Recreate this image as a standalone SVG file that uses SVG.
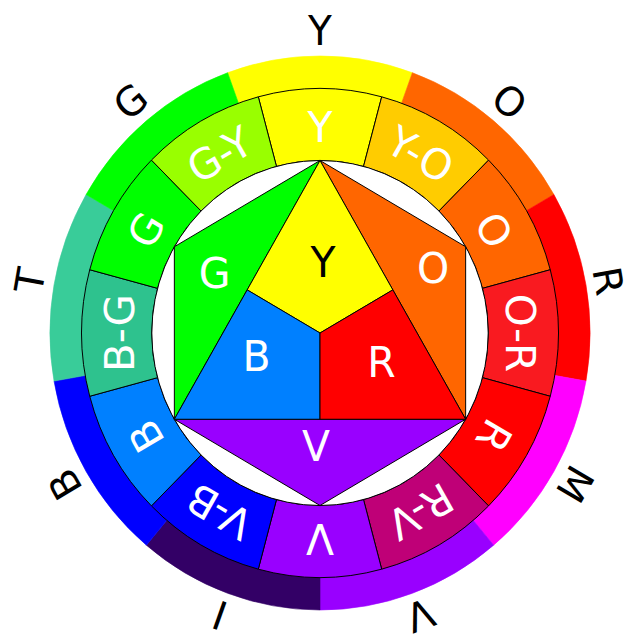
<svg xmlns="http://www.w3.org/2000/svg" width="633" height="642" viewBox="0 0 633 642">
<style>
.ln{stroke:#000;stroke-width:1;stroke-linejoin:round}
.seam{stroke-width:0.6}
text{font-family:"DejaVu Sans","Liberation Sans",sans-serif;font-size:42px;text-anchor:middle}
.w{fill:#fff}
.k{fill:#000}
#outer-labels text{font-size:40px}
</style>
<rect width="633" height="642" fill="#fff"/>
<g transform="translate(320,333) scale(0.975,1)">
  <g id="outer-ring">
    <path id="o-Y" d="M0,0 L-94.740,-260.295 A277,277 0 0 1 94.740,-260.295 Z" fill="#ffff00" stroke="#ffff00" class="seam"/>
    <path id="o-O" d="M0,0 L94.740,-260.295 A277,277 0 0 1 239.889,-138.5 Z" fill="#ff6600" stroke="#ff6600" class="seam"/>
    <path id="o-R" d="M0,0 L239.889,-138.5 A277,277 0 0 1 272.792,48.100 Z" fill="#ff0000" stroke="#ff0000" class="seam"/>
    <path id="o-M" d="M0,0 L272.792,48.100 A277,277 0 0 1 178.052,212.194 Z" fill="#ff00ff" stroke="#ff00ff" class="seam"/>
    <path id="o-V" d="M0,0 L178.052,212.194 A277,277 0 0 1 0,277 Z" fill="#9900ff" stroke="#9900ff" class="seam"/>
    <path id="o-I" d="M0,0 L0,277 A277,277 0 0 1 -178.052,212.194 Z" fill="#330066" stroke="#330066" class="seam"/>
    <path id="o-B" d="M0,0 L-178.052,212.194 A277,277 0 0 1 -272.792,48.100 Z" fill="#0000ff" stroke="#0000ff" class="seam"/>
    <path id="o-T" d="M0,0 L-272.792,48.100 A277,277 0 0 1 -239.889,-138.5 Z" fill="#39cc99" stroke="#39cc99" class="seam"/>
    <path id="o-G" d="M0,0 L-239.889,-138.5 A277,277 0 0 1 -94.740,-260.295 Z" fill="#00ff00" stroke="#00ff00" class="seam"/>
  </g>
  <g id="inner-ring" class="ln">
    <path id="i-Y" fill="#ffff00" d="M-63.281,-236.169 A244.5,244.5 0 0 1 63.281,-236.169 L44.646,-166.622 A172.5,172.5 0 0 0 -44.646,-166.622 Z"/>
    <path id="i-YO" fill="#ffcc00" d="M63.281,-236.169 A244.5,244.5 0 0 1 172.888,-172.888 L121.976,-121.976 A172.5,172.5 0 0 0 44.646,-166.622 Z"/>
    <path id="i-O" fill="#ff6600" d="M172.888,-172.888 A244.5,244.5 0 0 1 236.169,-63.281 L166.622,-44.646 A172.5,172.5 0 0 0 121.976,-121.976 Z"/>
    <path id="i-OR" fill="#f91a20" d="M236.169,-63.281 A244.5,244.5 0 0 1 236.169,63.281 L166.622,44.646 A172.5,172.5 0 0 0 166.622,-44.646 Z"/>
    <path id="i-R" fill="#ff0000" d="M236.169,63.281 A244.5,244.5 0 0 1 172.888,172.888 L121.976,121.976 A172.5,172.5 0 0 0 166.622,44.646 Z"/>
    <path id="i-RV" fill="#bf0077" d="M172.888,172.888 A244.5,244.5 0 0 1 63.281,236.169 L44.646,166.622 A172.5,172.5 0 0 0 121.976,121.976 Z"/>
    <path id="i-V" fill="#9900ff" d="M63.281,236.169 A244.5,244.5 0 0 1 -63.281,236.169 L-44.646,166.622 A172.5,172.5 0 0 0 44.646,166.622 Z"/>
    <path id="i-VB" fill="#0000ff" d="M-63.281,236.169 A244.5,244.5 0 0 1 -172.888,172.888 L-121.976,121.976 A172.5,172.5 0 0 0 -44.646,166.622 Z"/>
    <path id="i-B" fill="#0080ff" d="M-172.888,172.888 A244.5,244.5 0 0 1 -236.169,63.281 L-166.622,44.646 A172.5,172.5 0 0 0 -121.976,121.976 Z"/>
    <path id="i-BG" fill="#2ec28e" d="M-236.169,63.281 A244.5,244.5 0 0 1 -236.169,-63.281 L-166.622,-44.646 A172.5,172.5 0 0 0 -166.622,44.646 Z"/>
    <path id="i-G" fill="#00ff00" d="M-236.169,-63.281 A244.5,244.5 0 0 1 -172.888,-172.888 L-121.976,-121.976 A172.5,172.5 0 0 0 -166.622,-44.646 Z"/>
    <path id="i-GY" fill="#99ff00" d="M-172.888,-172.888 A244.5,244.5 0 0 1 -63.281,-236.169 L-44.646,-166.622 A172.5,172.5 0 0 0 -121.976,-121.976 Z"/>
  </g>
  <circle id="white-disc" r="172.5" fill="#fff" class="ln"/>
  <g id="center" class="ln">
    <polygon id="c-G" fill="#00ff00" points="0,-172.5 -149.39,-86.25 -149.39,86.25"/>
    <polygon id="c-O" fill="#ff6600" points="0,-172.5 149.39,-86.25 149.39,86.25"/>
    <polygon id="c-V" fill="#9900ff" points="-149.39,86.25 149.39,86.25 0,172.5"/>
    <polygon id="c-Y" fill="#ffff00" points="0,-172.5 74.70,-43.125 0,0 -74.70,-43.125"/>
    <polygon id="c-B" fill="#0080ff" points="-74.70,-43.125 0,0 0,86.25 -149.39,86.25"/>
    <polygon id="c-R" fill="#ff0000" points="74.70,-43.125 149.39,86.25 0,86.25 0,0"/>
  </g>
  <g id="center-labels">
    <text class="k" x="3" y="-56">Y</text>
    <text class="w" x="-108" y="-45">G</text>
    <text class="w" x="116" y="-50">O</text>
    <text class="w" x="-65" y="38">B</text>
    <text class="w" x="63" y="44">R</text>
    <text class="w" x="-4" y="128">V</text>
  </g>
  <g id="ring-labels" class="w">
    <text transform="rotate(0)" y="-191">Y</text>
    <text transform="rotate(30)" y="-191">Y-O</text>
    <text transform="rotate(60)" y="-191">O</text>
    <text transform="rotate(90)" y="-191">O-R</text>
    <text transform="rotate(120)" y="-191">R</text>
    <text transform="rotate(150)" y="-191">R-V</text>
    <text transform="rotate(180)" y="-191">V</text>
    <text transform="rotate(210)" y="-191">V-B</text>
    <text transform="rotate(240)" y="-191">B</text>
    <text transform="rotate(270)" y="-191">B-G</text>
    <text transform="rotate(300)" y="-191">G</text>
    <text transform="rotate(330)" y="-191">G-Y</text>
  </g>
  <g id="outer-labels" class="k">
    <text transform="rotate(0)" y="-288">Y</text>
    <text transform="rotate(40)" y="-288">O</text>
    <text transform="rotate(80)" y="-286">R</text>
    <text transform="rotate(120)" y="-288">M</text>
    <text transform="rotate(160)" y="-286">V</text>
    <text transform="rotate(200)" y="-286">I</text>
    <text transform="rotate(240)" y="-288">B</text>
    <text transform="rotate(280)" y="-288">T</text>
    <text transform="rotate(320)" y="-288">G</text>
  </g>
</g>
</svg>
